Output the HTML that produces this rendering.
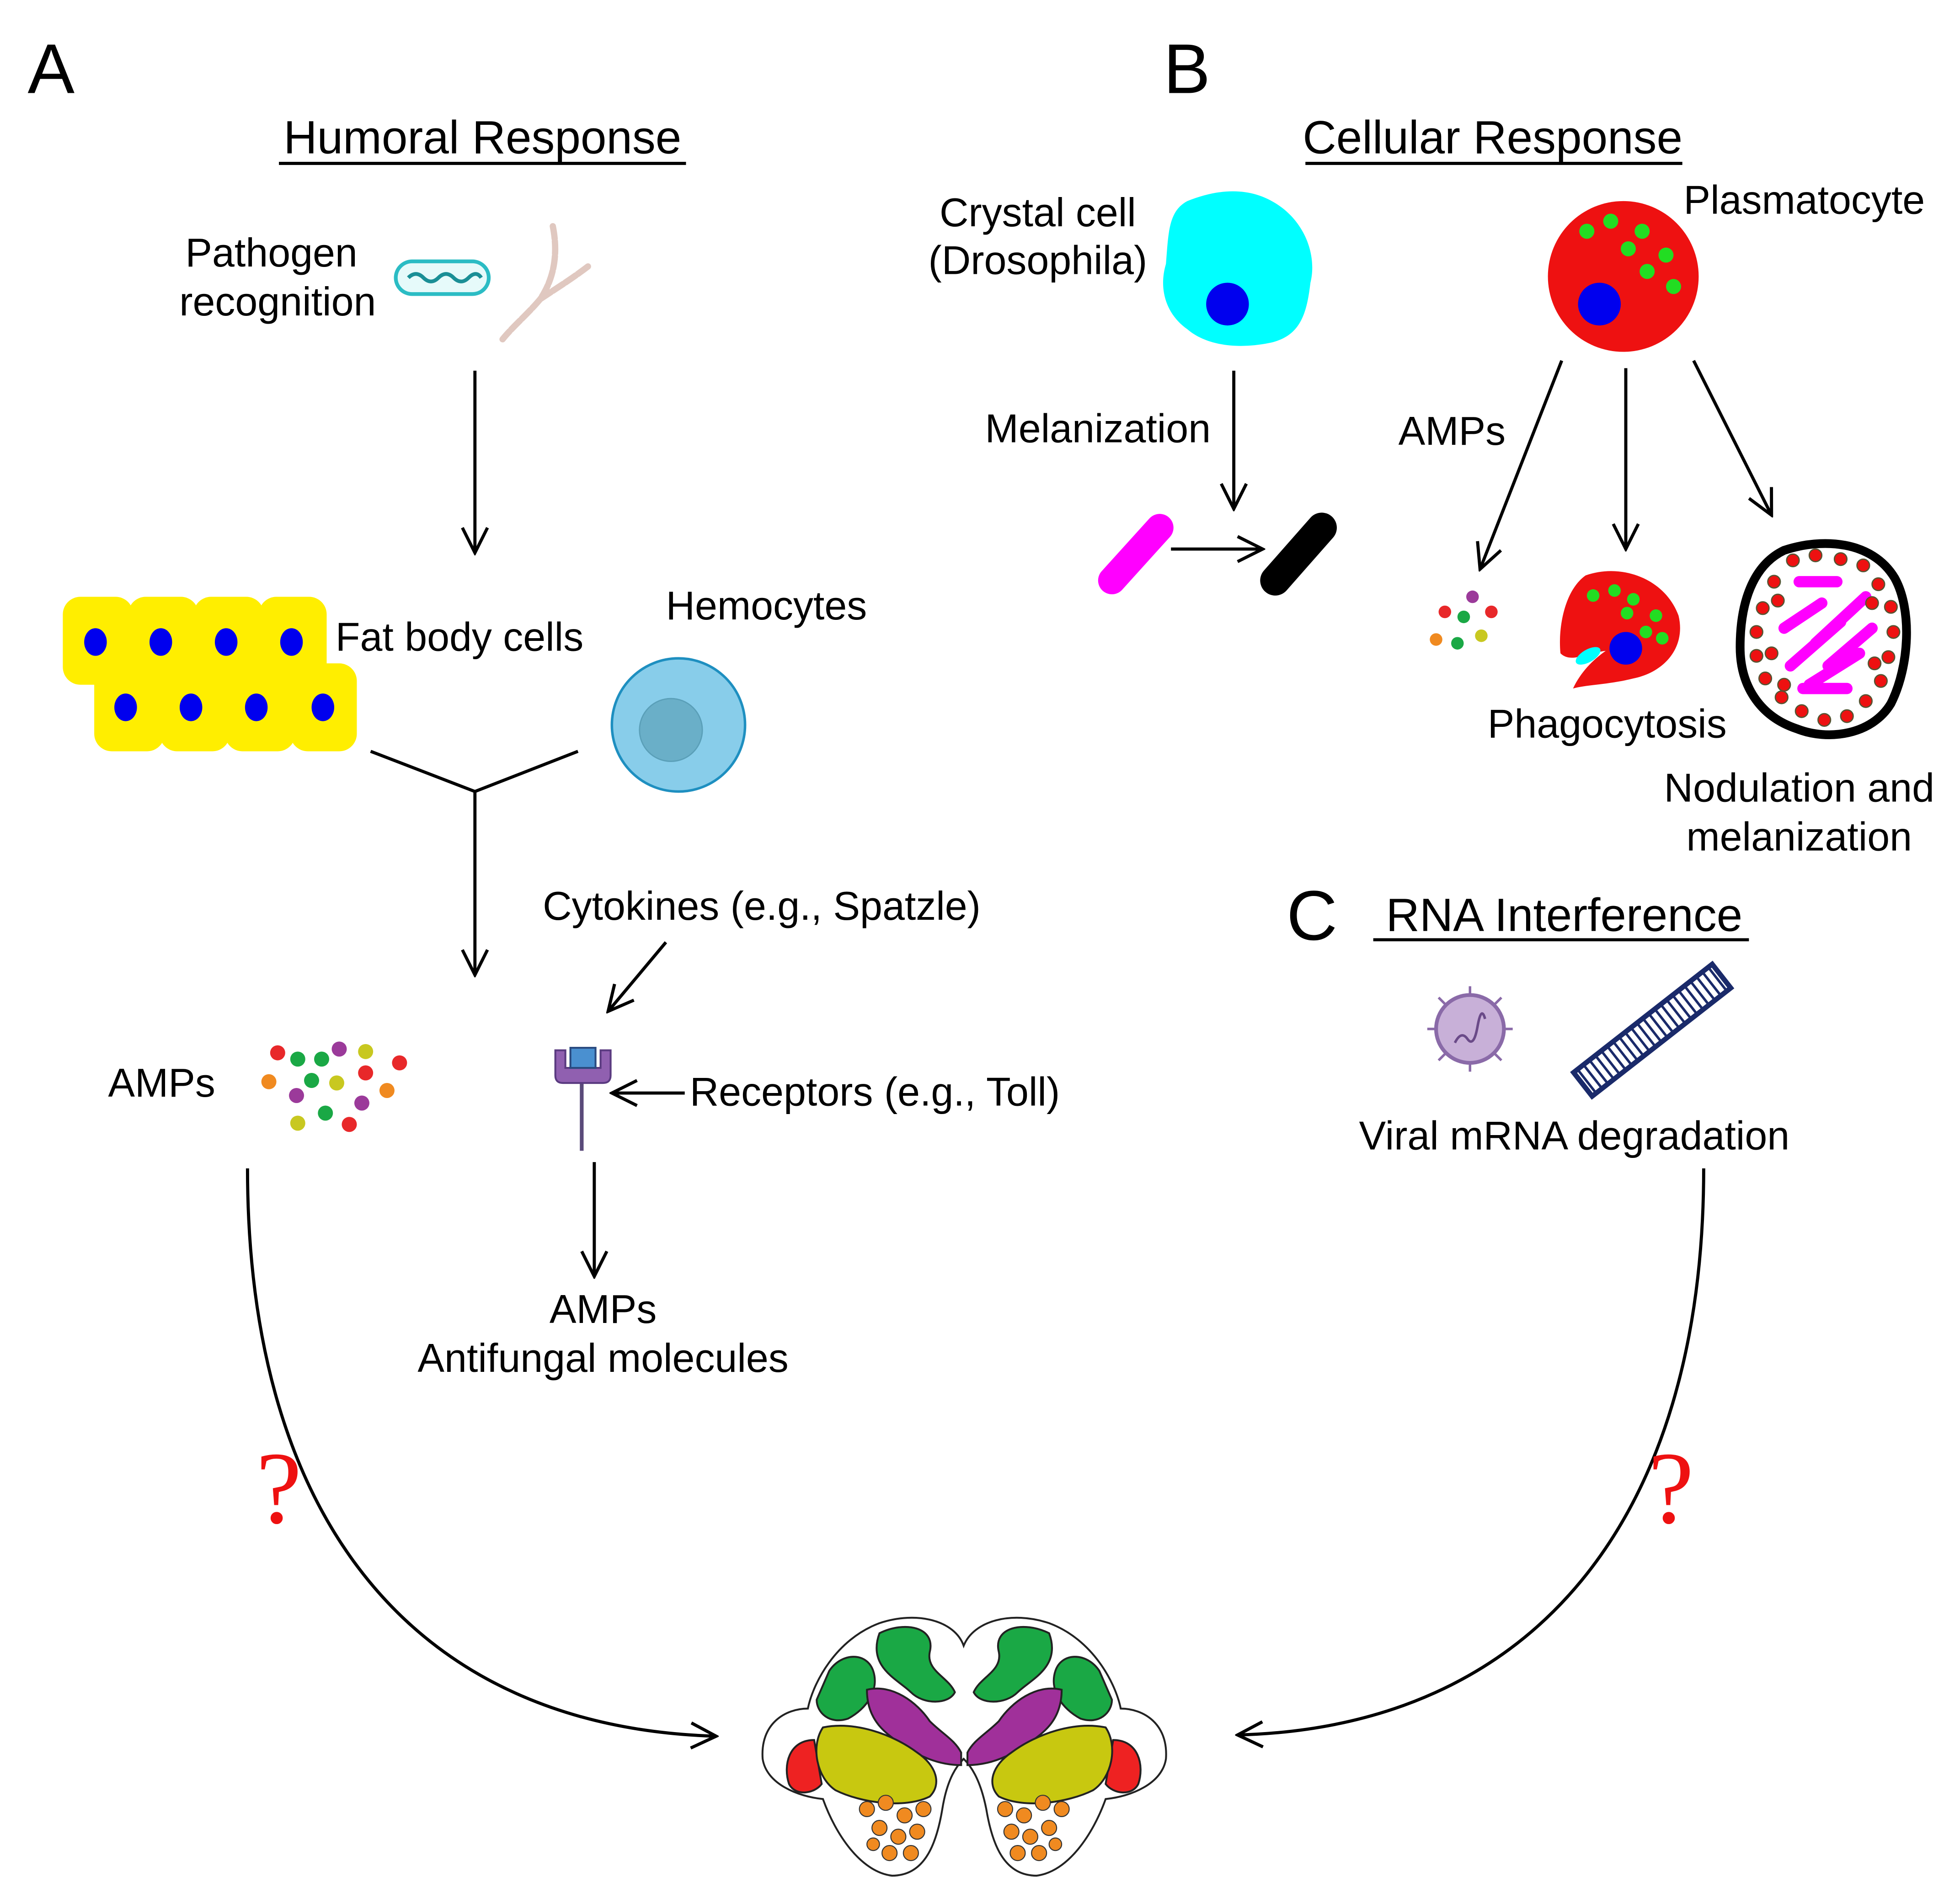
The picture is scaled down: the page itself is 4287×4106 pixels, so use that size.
<!DOCTYPE html>
<html><head><meta charset="utf-8"><style>html,body{margin:0;padding:0;background:#fff}svg{display:block}</style></head>
<body>
<svg width="4287" height="4106" viewBox="0 0 1560 1494" xmlns="http://www.w3.org/2000/svg" font-family="Liberation Sans, sans-serif">
<defs>
<marker id="ah2" markerWidth="24" markerHeight="24" refX="22" refY="12" orient="auto" markerUnits="userSpaceOnUse" viewBox="0 0 24 24">
<path d="M2,2 L22,12 L2,22" fill="none" stroke="#000" stroke-width="2.5"/></marker>
</defs>
<rect width="1560" height="1494" fill="#fff"/>
<text x="22" y="74" font-size="56">A</text>
<text x="926" y="74" font-size="56">B</text>
<text x="1024" y="748" font-size="56">C</text>
<text x="384" y="122" font-size="37" text-anchor="middle">Humoral Response</text>
<line x1="222" y1="130" x2="546" y2="130" stroke="#000" stroke-width="2.5"/>
<text x="1188" y="122" font-size="37" text-anchor="middle">Cellular Response</text>
<line x1="1039" y1="130" x2="1339" y2="130" stroke="#000" stroke-width="2.5"/>
<text x="1245" y="741" font-size="37" text-anchor="middle">RNA Interference</text>
<line x1="1093" y1="748" x2="1392" y2="748" stroke="#000" stroke-width="2.5"/>

<g font-size="32" fill="#000">
<text x="216" y="212" text-anchor="middle">Pathogen</text>
<text x="221" y="251" text-anchor="middle">recognition</text>
<text x="267" y="518">Fat body cells</text>
<text x="530" y="493">Hemocytes</text>
<text x="432" y="732">Cytokines (e.g., Spatzle)</text>
<text x="86" y="873">AMPs</text>
<text x="549" y="880">Receptors (e.g., Toll)</text>
<text x="480" y="1053" text-anchor="middle">AMPs</text>
<text x="480" y="1092" text-anchor="middle">Antifungal molecules</text>
<text x="826" y="180" text-anchor="middle">Crystal cell</text>
<text x="826" y="218" text-anchor="middle">(Drosophila)</text>
<text x="784" y="352">Melanization</text>
<text x="1340" y="170">Plasmatocyte</text>
<text x="1113" y="354">AMPs</text>
<text x="1184" y="587">Phagocytosis</text>
<text x="1432" y="638" text-anchor="middle">Nodulation and</text>
<text x="1432" y="677" text-anchor="middle">melanization</text>
<text x="1253" y="915" text-anchor="middle">Viral mRNA degradation</text>
</g>

<rect x="315" y="208" width="74" height="26" rx="13" fill="#e6fafa" stroke="#2bbcc4" stroke-width="3"/>
<path d="M325,221 q6,-6 12,0 t12,0 t12,0 t12,0 t10,0" fill="none" stroke="#1a8f96" stroke-width="3"/>
<path d="M440,180 C444,200 442,220 430,238 C420,250 408,260 400,270 M430,238 C442,230 455,222 468,212" fill="none" stroke="#e0c8c0" stroke-width="5" stroke-linecap="round" stroke-dasharray="10 2"/>

<line x1="378" y1="295" x2="378" y2="440" stroke="#000" stroke-width="2.5" marker-end="url(#ah2)"/>
<g fill="#ffee00">
<rect x="50" y="475" width="56" height="70" rx="14"/><rect x="102" y="475" width="56" height="70" rx="14"/>
<rect x="154" y="475" width="56" height="70" rx="14"/><rect x="206" y="475" width="54" height="70" rx="14"/>
<rect x="75" y="528" width="56" height="70" rx="14"/><rect x="127" y="528" width="56" height="70" rx="14"/>
<rect x="179" y="528" width="56" height="70" rx="14"/><rect x="231" y="528" width="53" height="70" rx="14"/>
</g>
<g fill="#0000ee">
<ellipse cx="76" cy="511" rx="9" ry="11"/><ellipse cx="128" cy="511" rx="9" ry="11"/><ellipse cx="180" cy="511" rx="9" ry="11"/><ellipse cx="232" cy="511" rx="9" ry="11"/>
<ellipse cx="100" cy="563" rx="9" ry="11"/><ellipse cx="152" cy="563" rx="9" ry="11"/><ellipse cx="204" cy="563" rx="9" ry="11"/><ellipse cx="257" cy="563" rx="9" ry="11"/>
</g>
<circle cx="540" cy="577" r="53" fill="#88cdea" stroke="#1e8fc0" stroke-width="2"/>
<circle cx="534" cy="581" r="25" fill="#6aafc8" stroke="#5a9fb8" stroke-width="1"/>
<polyline points="295,598 378,630 460,598" fill="none" stroke="#000" stroke-width="2.5"/>
<line x1="378" y1="630" x2="378" y2="776" stroke="#000" stroke-width="2.5" marker-end="url(#ah2)"/>
<line x1="530" y1="750" x2="484" y2="805" stroke="#000" stroke-width="2.5" marker-end="url(#ah2)"/>
<g>
<circle cx="221" cy="838" r="6" fill="#e8282a"/><circle cx="237" cy="843" r="6" fill="#1aa845"/><circle cx="256" cy="843" r="6" fill="#1aa845"/>
<circle cx="270" cy="835" r="6" fill="#9b3a9a"/><circle cx="291" cy="837" r="6" fill="#c8c820"/><circle cx="318" cy="846" r="6" fill="#e8282a"/>
<circle cx="214" cy="861" r="6" fill="#f08a20"/><circle cx="248" cy="860" r="6" fill="#1aa845"/><circle cx="268" cy="862" r="6" fill="#c8c820"/>
<circle cx="291" cy="854" r="6" fill="#e8282a"/><circle cx="236" cy="872" r="6" fill="#9b3a9a"/><circle cx="308" cy="868" r="6" fill="#f08a20"/>
<circle cx="259" cy="886" r="6" fill="#1aa845"/><circle cx="288" cy="878" r="6" fill="#9b3a9a"/><circle cx="237" cy="894" r="6" fill="#c8c820"/>
<circle cx="278" cy="895" r="6" fill="#e8282a"/>
</g>
<line x1="463" y1="858" x2="463" y2="916" stroke="#5a4a7a" stroke-width="3"/>
<path d="M442,836 h8 v14 h28 v-14 h8 v20 q0,6 -6,6 h-32 q-6,0 -6,-6 z" fill="#9060b0" stroke="#5a3a80" stroke-width="1.5"/>
<rect x="454" y="834" width="20" height="16" fill="#4a90d0" stroke="#2a4a80" stroke-width="1.5"/>
<line x1="545" y1="870" x2="487" y2="870" stroke="#000" stroke-width="2.5" marker-end="url(#ah2)"/>
<line x1="473" y1="925" x2="473" y2="1016" stroke="#000" stroke-width="2.5" marker-end="url(#ah2)"/>

<path d="M197,930 C197,1210 330,1375 570,1382" fill="none" stroke="#000" stroke-width="2.5" marker-end="url(#ah2)"/>
<path d="M1356,930 C1356,1210 1220,1375 985,1381" fill="none" stroke="#000" stroke-width="2.5" marker-end="url(#ah2)"/>
<text x="222" y="1212" font-size="82" fill="#ee1111" font-family="Liberation Serif, serif" text-anchor="middle">?</text>
<text x="1330" y="1212" font-size="82" fill="#ee1111" font-family="Liberation Serif, serif" text-anchor="middle">?</text>

<path d="M945,160 C975,148 1000,150 1020,165 C1040,180 1048,205 1043,225 C1040,250 1035,268 1010,273 C985,278 960,275 945,262 C928,250 922,230 928,210 C930,185 930,168 945,160 Z" fill="#00ffff"/>
<circle cx="977" cy="242" r="17" fill="#0000ee"/>
<line x1="982" y1="295" x2="982" y2="405" stroke="#000" stroke-width="2.5" marker-end="url(#ah2)"/>
<line x1="885" y1="462" x2="923" y2="420" stroke="#ff00ff" stroke-width="22" stroke-linecap="round"/>
<line x1="932" y1="437" x2="1005" y2="437" stroke="#000" stroke-width="2.5" marker-end="url(#ah2)"/>
<line x1="1015" y1="462" x2="1052" y2="420" stroke="#000" stroke-width="24" stroke-linecap="round"/>
<circle cx="1292" cy="220" r="60" fill="#ee1111"/>
<g fill="#22dd22"><circle cx="1263" cy="184" r="6"/><circle cx="1282" cy="176" r="6"/><circle cx="1307" cy="184" r="6"/><circle cx="1296" cy="198" r="6"/><circle cx="1326" cy="203" r="6"/><circle cx="1311" cy="216" r="6"/><circle cx="1332" cy="228" r="6"/></g>
<circle cx="1273" cy="242" r="17" fill="#0000ee"/>
<line x1="1243" y1="287" x2="1178" y2="453" stroke="#000" stroke-width="2.5" marker-end="url(#ah2)"/>
<line x1="1294" y1="293" x2="1294" y2="437" stroke="#000" stroke-width="2.5" marker-end="url(#ah2)"/>
<line x1="1348" y1="287" x2="1410" y2="410" stroke="#000" stroke-width="2.5" marker-end="url(#ah2)"/>
<circle cx="1172" cy="475" r="5" fill="#9b3a9a"/><circle cx="1150" cy="487" r="5" fill="#e8282a"/><circle cx="1165" cy="491" r="5" fill="#1aa845"/><circle cx="1187" cy="487" r="5" fill="#e8282a"/>
<circle cx="1143" cy="509" r="5" fill="#f08a20"/><circle cx="1160" cy="512" r="5" fill="#1aa845"/><circle cx="1179" cy="506" r="5" fill="#c8c820"/>
<path d="M1262,458 C1290,448 1325,460 1336,490 C1342,515 1325,535 1300,540 C1280,545 1262,545 1252,548 C1258,535 1268,525 1278,518 C1262,520 1250,528 1242,520 C1240,500 1245,470 1262,458 Z" fill="#ee1111"/>
<g fill="#22dd22"><circle cx="1268" cy="474" r="5"/><circle cx="1285" cy="470" r="5"/><circle cx="1300" cy="477" r="5"/><circle cx="1295" cy="488" r="5"/><circle cx="1318" cy="490" r="5"/><circle cx="1310" cy="503" r="5"/><circle cx="1323" cy="508" r="5"/></g>
<circle cx="1294" cy="516" r="13" fill="#0000ee"/>
<ellipse cx="1264" cy="522" rx="11" ry="5" transform="rotate(-30 1264 522)" fill="#00ffff"/>
<path d="M1420,438 C1450,428 1490,430 1508,460 C1522,485 1520,530 1505,560 C1490,585 1455,590 1430,580 C1400,570 1385,545 1385,515 C1385,480 1395,450 1420,438 Z" fill="#fff" stroke="#000" stroke-width="7"/>
<g stroke="#ff00ff" stroke-width="9" stroke-linecap="round">
<line x1="1432" y1="463" x2="1462" y2="463"/><line x1="1420" y1="500" x2="1450" y2="480"/><line x1="1445" y1="512" x2="1485" y2="475"/>
<line x1="1425" y1="530" x2="1465" y2="495"/><line x1="1455" y1="530" x2="1490" y2="500"/><line x1="1440" y1="545" x2="1480" y2="520"/><line x1="1435" y1="548" x2="1470" y2="548"/>
</g>
<g fill="#ee1111" stroke="#553" stroke-width="1">
<circle cx="1427" cy="446" r="5"/><circle cx="1445" cy="442" r="5"/><circle cx="1465" cy="445" r="5"/><circle cx="1483" cy="450" r="5"/><circle cx="1495" cy="465" r="5"/>
<circle cx="1505" cy="483" r="5"/><circle cx="1507" cy="503" r="5"/><circle cx="1503" cy="523" r="5"/><circle cx="1497" cy="542" r="5"/><circle cx="1485" cy="558" r="5"/>
<circle cx="1470" cy="570" r="5"/><circle cx="1452" cy="573" r="5"/><circle cx="1434" cy="566" r="5"/><circle cx="1418" cy="555" r="5"/><circle cx="1405" cy="540" r="5"/>
<circle cx="1398" cy="522" r="5"/><circle cx="1398" cy="503" r="5"/><circle cx="1403" cy="484" r="5"/><circle cx="1412" cy="463" r="5"/>
<circle cx="1415" cy="478" r="5"/><circle cx="1410" cy="520" r="5"/><circle cx="1420" cy="545" r="5"/><circle cx="1490" cy="480" r="5"/><circle cx="1492" cy="528" r="5"/>
</g>

<circle cx="1170" cy="819" r="27" fill="#c8b0d8" stroke="#8a6aa8" stroke-width="3"/>
<path d="M1158,830 q5,-10 10,-3 t8,-10 t6,-6" fill="none" stroke="#6a4a88" stroke-width="2"/>
<g stroke="#8a6aa8" stroke-width="2"><line x1="1170" y1="792" x2="1170" y2="785"/><line x1="1170" y1="846" x2="1170" y2="853"/><line x1="1143" y1="819" x2="1136" y2="819"/><line x1="1197" y1="819" x2="1204" y2="819"/><line x1="1150" y1="799" x2="1145" y2="794"/><line x1="1190" y1="799" x2="1195" y2="794"/><line x1="1150" y1="839" x2="1145" y2="844"/><line x1="1190" y1="839" x2="1195" y2="844"/></g>
<g transform="translate(1315,820) rotate(-38)">
<rect x="-70" y="-12" width="140" height="24" fill="none" stroke="#1a2a6a" stroke-width="4"/>
<path d="M-66,-12 V12 M-60,-12 V12 M-54,-12 V12 M-48,-12 V12 M-42,-12 V12 M-36,-12 V12 M-30,-12 V12 M-24,-12 V12 M-18,-12 V12 M-12,-12 V12 M-6,-12 V12 M0,-12 V12 M6,-12 V12 M12,-12 V12 M18,-12 V12 M24,-12 V12 M30,-12 V12 M36,-12 V12 M42,-12 V12 M48,-12 V12 M54,-12 V12 M60,-12 V12 M66,-12 V12" stroke="#1a2a6a" stroke-width="2"/>
</g>

<g stroke="#222" stroke-width="1.5">
<path d="M700,1292 C730,1282 760,1290 767,1310 C775,1290 805,1282 835,1292 C870,1305 888,1340 892,1360 C910,1360 930,1372 928,1400 C925,1420 900,1430 880,1432 C870,1460 850,1490 825,1493 C800,1493 790,1470 785,1440 C780,1415 772,1405 767,1400 C762,1405 754,1415 750,1440 C745,1470 735,1493 710,1493 C685,1490 665,1460 655,1432 C635,1430 610,1420 607,1400 C605,1372 625,1360 643,1360 C647,1340 665,1305 700,1292 Z" fill="#fff"/>
<path d="M648,1385 c-20,0 -25,20 -20,35 c5,10 20,8 26,0 z" fill="#ee2222"/>
<path d="M886,1385 c20,0 25,20 20,35 c-5,10 -20,8 -26,0 z" fill="#ee2222"/>
<path d="M660,1330 c10,-15 30,-15 35,0 c5,15 -5,30 -20,38 c-15,5 -25,-5 -25,-15 z" fill="#1aa845"/>
<path d="M700,1300 c20,-10 45,-5 40,15 c-3,15 15,20 20,32 c-5,10 -25,10 -35,0 c-10,-10 -35,-20 -25,-47 z" fill="#1aa845"/>
<path d="M875,1330 c-10,-15 -30,-15 -35,0 c-5,15 5,30 20,38 c15,5 25,-5 25,-15 z" fill="#1aa845"/>
<path d="M835,1300 c-20,-10 -45,-5 -40,15 c3,15 -15,20 -20,32 c5,10 25,10 35,0 c10,-10 35,-20 25,-47 z" fill="#1aa845"/>
<path d="M690,1345 c20,-5 40,10 50,25 c10,10 20,15 25,25 l0,10 c-15,0 -30,-5 -45,-15 c-15,-10 -30,-20 -30,-45 z" fill="#a0309a"/>
<path d="M845,1345 c-20,-5 -40,10 -50,25 c-10,10 -20,15 -25,25 l0,10 c15,0 30,-5 45,-15 c15,-10 30,-20 30,-45 z" fill="#a0309a"/>
<path d="M655,1375 c25,-5 55,5 75,20 c15,10 20,25 10,35 c-20,10 -55,5 -75,-5 c-15,-10 -20,-35 -10,-50 z" fill="#c8c810"/>
<path d="M880,1375 c-25,-5 -55,5 -75,20 c-15,10 -20,25 -10,35 c20,10 55,5 75,-5 c15,-10 20,-35 10,-50 z" fill="#c8c810"/>
</g>
<g fill="#f08a20" stroke="#333" stroke-width="0.8">
<circle cx="690" cy="1440" r="6"/><circle cx="705" cy="1435" r="6"/><circle cx="720" cy="1445" r="6"/><circle cx="735" cy="1440" r="6"/><circle cx="700" cy="1455" r="6"/><circle cx="715" cy="1462" r="6"/><circle cx="730" cy="1458" r="6"/><circle cx="708" cy="1475" r="6"/><circle cx="725" cy="1475" r="6"/><circle cx="695" cy="1468" r="5"/>
<circle cx="845" cy="1440" r="6"/><circle cx="830" cy="1435" r="6"/><circle cx="815" cy="1445" r="6"/><circle cx="800" cy="1440" r="6"/><circle cx="835" cy="1455" r="6"/><circle cx="820" cy="1462" r="6"/><circle cx="805" cy="1458" r="6"/><circle cx="827" cy="1475" r="6"/><circle cx="810" cy="1475" r="6"/><circle cx="840" cy="1468" r="5"/>
</g>
</svg>
</body></html>
